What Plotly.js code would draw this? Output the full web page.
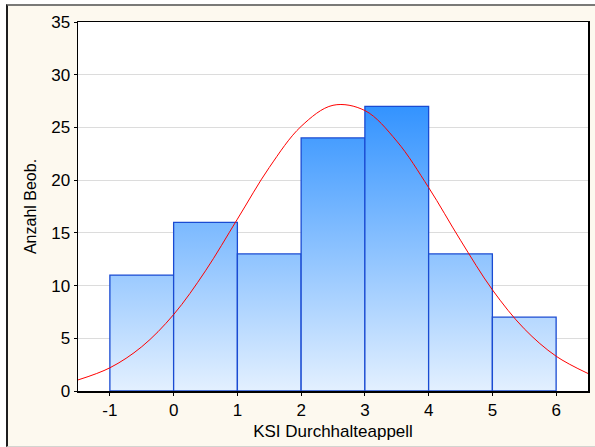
<!DOCTYPE html>
<html>
<head>
<meta charset="utf-8">
<script src="https://cdn.plot.ly/plotly-3.0.1.min.js"></script>
<style>
  html, body { margin:0; padding:0; background:#ffffff; width:595px; height:447px; overflow:hidden; }
  #chart { position:absolute; left:8px; top:6px; width:587px; height:441px; }
  #frame { position:absolute; left:6px; top:4px; width:589px; height:443px; box-sizing:border-box;
           border-top:2px solid #7a7a78; border-left:2px solid #1e1e1e; border-bottom:1px solid #d4d4d0;
           pointer-events:none; }
</style>
</head>
<body>
<div id="chart"></div>
<div id="frame"></div>
<script>
// Histogram bins (lower edge, upper edge) and counts
const binLower = [-1, 0, 1, 2, 3, 4, 5];
const binUpper = [0, 1, 2, 3, 4, 5, 6];
const counts   = [11, 16, 13, 24, 27, 13, 7];

// Expected normal curve
const curveX = [-1.5, -1, -0.5, 0, 0.5, 1, 1.5, 2, 2.5, 3, 3.5, 4, 4.5, 5, 5.5, 6, 6.5];
const curveY = [1.05, 2.2, 4.2, 7.25, 11.4, 16.3, 21.2, 25.1, 27.1, 26.6, 23.7, 19.3, 14.3, 9.6, 5.9, 3.3, 1.66];

const xTicks = [-1, 0, 1, 2, 3, 4, 5, 6];
const yTicks = [0, 5, 10, 15, 20, 25, 30, 35];

const traces = [];
// gradient-filled bars with dark blue outline
binLower.forEach((lo, i) => {
  const hi = binUpper[i], c = counts[i];
  traces.push({
    type: 'scatter', mode: 'lines',
    x: [lo, lo, hi, hi, lo], y: [0, c, c, 0, 0],
    fill: 'toself',
    fillgradient: { type: 'vertical', start: 0, stop: 27,
      colorscale: [[0, '#e3f0ff'], [1, '#3393ff']] },
    line: { color: '#1a4bd2', width: 1.3 },
    hoverinfo: 'skip', showlegend: false
  });
});
// normal curve
traces.push({
  type: 'scatter', mode: 'lines',
  x: curveX, y: curveY,
  line: { color: '#ff0000', width: 1, shape: 'spline' },
  showlegend: false, hoverinfo: 'skip'
});

const fam = 'Liberation Sans, Arial, sans-serif';

const layout = {
  width: 587, height: 441,
  margin: { l: 70, r: 7, t: 16, b: 56 },
  paper_bgcolor: '#fdf9ef',
  plot_bgcolor: '#ffffff',
  font: { family: fam, color: '#000000' },
  showlegend: false,
  xaxis: {
    range: [-1.5, 6.5],
    tickvals: xTicks, ticktext: xTicks.map(String),
    ticks: 'outside', ticklen: 3, tickcolor: '#000',
    showgrid: false, zeroline: false,
    showline: true, linecolor: '#000', linewidth: 1.5, mirror: true,
    tickfont: { size: 17, family: fam },
    title: { text: 'KSI Durchhalteappell', font: { size: 17, family: fam }, standoff: 6 }
  },
  yaxis: {
    range: [0, 35],
    tickvals: yTicks, ticktext: yTicks.map(String),
    ticks: 'outside', ticklen: 3, tickcolor: '#000',
    showgrid: true, gridcolor: '#dcdcdc', gridwidth: 1,
    zeroline: false,
    showline: true, linecolor: '#000', linewidth: 1.5, mirror: true,
    tickfont: { size: 17, family: fam },
    title: { text: 'Anzahl Beob.', font: { size: 16, family: fam }, standoff: 10 }
  }
};

Plotly.newPlot('chart', traces, layout, { displayModeBar: false, staticPlot: true });
</script>
</body>
</html>
